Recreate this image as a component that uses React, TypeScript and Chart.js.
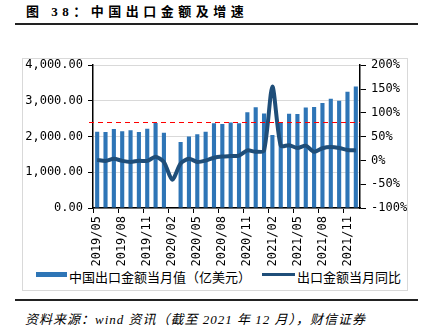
import React, { useEffect, useRef } from "react";
import { Chart, registerables } from "chart.js";

Chart.register(...registerables);

const months = [
  "2019/05", "2019/06", "2019/07", "2019/08", "2019/09", "2019/10", "2019/11", "2019/12",
  "2020/01", "2020/02", "2020/03", "2020/04", "2020/05", "2020/06", "2020/07", "2020/08",
  "2020/09", "2020/10", "2020/11", "2020/12", "2021/01", "2021/02", "2021/03", "2021/04",
  "2021/05", "2021/06", "2021/07", "2021/08", "2021/09", "2021/10", "2021/11", "2021/12",
];

// 中国出口金额当月值（亿美元）
const exportValues = [
  2138, 2128, 2215, 2148, 2181, 2129, 2217, 2380,
  2105, null, 1851, 2000, 2068, 2135, 2375, 2352,
  2393, 2371, 2680, 2819, 2650, 2046, 2410, 2639,
  2636, 2815, 2826, 2942, 3057, 3001, 3256, 3405,
];

// 出口金额当月同比（%）
const yoyValues = [
  1.1, -1.3, 3.3, -1.0, -3.2, -0.9, -1.1, 7.6,
  -3.5, -40.6, -6.6, 3.5, -3.3, -0.5, 5.5, 8.0,
  9.0, 10.0, 21.0, 18.0, 21.0, 155.0, 31.0, 32.0,
  26.0, 31.0, 18.0, 25.5, 28.0, 26.0, 22.0, 21.0,
];

const referenceLevel = 2420;
const leftTickRange = { min: 0, max: 4000, step: 1000 };
const rightTickRange = { min: -100, max: 200, step: 50 };

const barLabel = "中国出口金额当月值（亿美元）";
const lineLabel = "出口金额当月同比";

const BAR_COLOR = "#2E75B6";
const LINE_COLOR = "#1F4E79";
const TICK_FONT = { family: "'DejaVu Sans Mono', monospace", size: 12 };

const refLinePlugin = {
  id: "refLine",
  afterDatasetsDraw(chart: any) {
    const { ctx, chartArea, scales } = chart;
    const y = Math.round(scales.y.getPixelForValue(referenceLevel)) + 0.5;
    ctx.save();
    ctx.strokeStyle = "#FF0000";
    ctx.lineWidth = 1.2;
    ctx.setLineDash([5, 4]);
    ctx.beginPath();
    ctx.moveTo(chartArea.left - 4, y);
    ctx.lineTo(chartArea.right, y);
    ctx.stroke();
    ctx.restore();
  },
};

export default function App() {
  const canvasRef = useRef<HTMLCanvasElement | null>(null);

  useEffect(() => {
    document.body.style.margin = "0";
    const canvas = canvasRef.current;
    if (!canvas) return;
    const chart = new Chart(canvas, {
      type: "bar",
      data: {
        labels: months,
        datasets: [
          {
            type: "line",
            label: lineLabel,
            data: yoyValues,
            yAxisID: "y1",
            borderColor: LINE_COLOR,
            backgroundColor: LINE_COLOR,
            borderWidth: 4,
            pointRadius: 0,
            tension: 0.25,
            order: 0,
          } as any,
          {
            type: "bar",
            label: barLabel,
            data: exportValues,
            yAxisID: "y",
            backgroundColor: BAR_COLOR,
            barPercentage: 0.52,
            categoryPercentage: 0.95,
            order: 1,
          } as any,
        ],
      },
      options: {
        responsive: false,
        animation: false,
        layout: { padding: { top: 0, left: 0, right: 0, bottom: 0 } },
        plugins: {
          legend: { display: false },
          tooltip: { enabled: false },
        },
        scales: {
          x: {
            offset: true,
            grid: {
              offset: true,
              drawOnChartArea: false,
              tickLength: 5,
              tickColor: (ctx: any) => (ctx.index % 3 === 0 ? "#000" : "rgba(0,0,0,0)"),
            },
            border: { display: true, color: "#000", width: 1.5 },
            ticks: {
              autoSkip: false,
              minRotation: 90,
              maxRotation: 90,
              padding: 3,
              color: "#000",
              font: TICK_FONT,
              callback: (_v: any, i: number) => (i % 3 === 0 ? months[i] : ""),
            },
            afterFit: (scale: any) => {
              scale.height = 82;
            },
          },
          y: {
            position: "left",
            min: leftTickRange.min,
            max: leftTickRange.max,
            grid: {
              color: "#D9D9D9",
              tickColor: "#000",
              tickLength: 5,
            },
            border: { display: true, color: "#000", width: 1.5 },
            ticks: {
              stepSize: leftTickRange.step,
              padding: 5,
              color: "#000",
              font: TICK_FONT,
              callback: (v: any) =>
                Number(v).toLocaleString("en-US", { minimumFractionDigits: 2, maximumFractionDigits: 2 }),
            },
            afterFit: (scale: any) => {
              scale.width = 70;
            },
          },
          y1: {
            position: "right",
            min: rightTickRange.min,
            max: rightTickRange.max,
            grid: {
              drawOnChartArea: false,
              tickColor: "#000",
              tickLength: 6,
            },
            border: { display: true, color: "#000", width: 1.5 },
            ticks: {
              stepSize: rightTickRange.step,
              padding: 5,
              color: "#000",
              font: TICK_FONT,
              callback: (v: any) => `${v}%`,
            },
            afterFit: (scale: any) => {
              scale.width = 47;
            },
          },
        },
      },
      plugins: [refLinePlugin],
    });
    return () => chart.destroy();
  }, []);

  const cjk = "'Noto Sans CJK SC', 'Noto Sans', sans-serif";

  return (
    <div
      style={{
        position: "absolute",
        left: 0,
        top: 0,
        width: 423,
        height: 331,
        background: "#fff",
        overflow: "hidden",
      }}
    >
      <div
        style={{
          position: "absolute",
          left: 26,
          top: 3,
          fontFamily: "'Liberation Serif', 'Noto Sans CJK SC', serif",
          fontWeight: "bold",
          fontSize: 13,
          letterSpacing: "4.5px",
          whiteSpace: "nowrap",
          color: "#000",
          lineHeight: "18px",
        }}
      >
        图 38：中国出口金额及增速
      </div>
      <div style={{ position: "absolute", left: 15, top: 23, width: 403, height: 2, background: "#222" }} />

      <div
        style={{
          position: "absolute",
          left: 22,
          top: 58,
          width: 384,
          height: 231,
          border: "1px solid #D9D9D9",
        }}
      >
        <div style={{ position: "absolute", left: 13, top: 213, width: 31, height: 5, background: BAR_COLOR }} />
        <div
          style={{
            position: "absolute",
            left: 46,
            top: 208,
            fontFamily: cjk,
            fontSize: 13,
            lineHeight: "20px",
            whiteSpace: "nowrap",
            color: "#000",
          }}
        >
          {barLabel}
        </div>
        <div style={{ position: "absolute", left: 239, top: 214, width: 33, height: 3, background: LINE_COLOR }} />
        <div
          style={{
            position: "absolute",
            left: 274,
            top: 208,
            fontFamily: cjk,
            fontSize: 13,
            lineHeight: "20px",
            whiteSpace: "nowrap",
            color: "#000",
          }}
        >
          {lineLabel}
        </div>
      </div>
      <canvas
        ref={canvasRef}
        width={384}
        height={237}
        style={{ position: "absolute", left: 23, top: 53, display: "block", width: 384, height: 237 }}
      />

      <div style={{ position: "absolute", left: 15, top: 299, width: 403, height: 2, background: "#222" }} />
      <div
        style={{
          position: "absolute",
          left: 25,
          top: 311,
          fontFamily: "'Liberation Serif', 'Noto Sans CJK SC', serif",
          fontStyle: "italic",
          fontSize: 13,
          letterSpacing: "1px",
          lineHeight: "18px",
          whiteSpace: "nowrap",
          color: "#000",
        }}
      >
        资料来源：wind 资讯（截至 2021 年 12 月），财信证券
      </div>
    </div>
  );
}
